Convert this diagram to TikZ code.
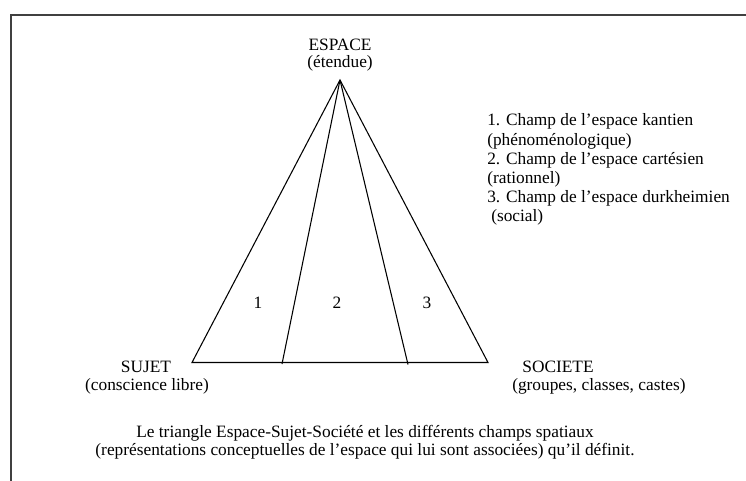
\documentclass[tikz,border=0pt]{standalone}
\usepackage{fontspec}
\setmainfont{Liberation Serif}
\begin{document}
\begin{tikzpicture}[x=0.75pt,y=-0.75pt,
  lbl/.style={inner sep=0pt,anchor=base,font=\fontsize{13}{15}\selectfont},
  lbll/.style={lbl,anchor=base west},
  edge/.style={line width=0.8pt,black},
  frame/.style={line width=1.3pt,black!75}]
\useasboundingbox (0,0) rectangle (746,481);
% frame
\coordinate (f1) at (746,15);
\coordinate (f2) at (11,15);
\coordinate (f3) at (11,481);
\draw[frame] (f1) -- (f2) -- (f3);
% triangle
\coordinate (A) at (340,80);
\coordinate (L) at (192,362.5);
\coordinate (R) at (488,362.5);
\coordinate (B1) at (282,364);
\coordinate (B2) at (408,364.5);
\draw[edge,line join=miter] (A) -- (L) -- (R) -- cycle;
\draw[edge] (A) -- (B1);
\draw[edge] (A) -- (B2);
% vertex labels
\node[lbl] (esp) at (340,51) {ESPACE};
\node[lbl] (esp2) at (340,68) {(étendue)};
\node[lbl] (suj) at (146,372) {SUJET};
\node[lbl] (suj2) at (147,390) {(conscience libre)};
\node[lbl] (soc) at (558,372) {SOCIETE};
\node[lbll] (soc2) at (512,390) {(groupes, classes, castes)};
% field numbers
\node[lbl] (n1) at (258,308) {1};
\node[lbl] (n2) at (337,308) {2};
\node[lbl] (n3) at (427,308) {3};
% legend
\node[lbll] (l1) at (487,126) {1. Champ de l’espace kantien};
\node[lbll] (l2) at (487,145.2) {(phénoménologique)};
\node[lbll] (l3) at (487,164.4) {2. Champ de l’espace cartésien};
\node[lbll] (l4) at (487,183.6) {(rationnel)};
\node[lbll] (l5) at (487,202.8) {3. Champ de l’espace durkheimien};
\node[lbll] (l6) at (491,222) {(social)};
% caption
\node[lbl] (c1) at (365,437) {Le triangle Espace-Sujet-Société et les différents champs spatiaux};
\node[lbl] (c2) at (365,455.5) {(représentations conceptuelles de l’espace qui lui sont associées) qu’il définit.};
\end{tikzpicture}
\end{document}
